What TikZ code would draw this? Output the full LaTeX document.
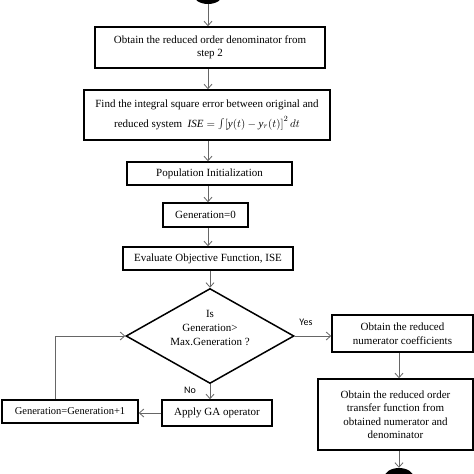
\documentclass[tikz,border=0pt]{standalone}
\usepackage{fontspec}
\setmainfont{Liberation Serif}
\newfontfamily\lblfont{Carlito}
\usetikzlibrary{shapes.geometric,arrows.meta}
\begin{document}
\begin{tikzpicture}[x=1pt,y=-1pt,
  box/.style={draw=black,line width=1.5pt,align=center,inner sep=1pt,font=\fontsize{11}{13.5}\selectfont},
  conn/.style={draw=black!60,line width=0.8pt,-{Straight Barb[length=4.5pt,width=8pt]}},
  term/.style={fill=black,ellipse,minimum width=30pt,minimum height=20pt,inner sep=0pt},
  lbl/.style={font=\lblfont\fontsize{10}{12}\selectfont,inner sep=0pt}]
\useasboundingbox (0,0) rectangle (474,474);
\begin{scope}
\clip (0,0) rectangle (474,474);
\node[term] (start) at (208,-6) {};
\node[term] (stop) at (399,478) {};
\end{scope}
\coordinate (spine) at (208,0);
\coordinate (rsp) at (399,0);
\coordinate (lp) at (55,0);
\node[box,minimum width=230pt,minimum height=41pt] (b1) at (210,47.5)
  {Obtain the reduced order denominator from\\step 2};
\node[box,minimum width=246pt,minimum height=50pt] (b2) at (207,115)
  {Find the integral square error between original and\\[6pt]reduced system \ $\mathit{ISE}=\int\bigl[\mathit{y}(t)-\mathit{y}_r(t)\bigr]^2\,dt$};
\node[box,minimum width=165pt,minimum height=23pt] (b3) at (209.5,173.5) {Population Initialization};
\node[box,minimum width=85pt,minimum height=24pt] (b4) at (205.5,215) {Generation=0};
\node[box,minimum width=170pt,minimum height=23pt] (b5) at (208,258.5) {Evaluate Objective Function, ISE};
\node[draw=black,line width=1.5pt,diamond,minimum width=168pt,minimum height=95pt,inner sep=0pt] (d) at (210,336) {};
\node[align=center,font=\fontsize{11}{14}\selectfont] (dtext) at (210,328) {Is\\Generation>\\Max.Generation ?};
\node[box,minimum width=110pt,minimum height=26pt] (ga) at (217,413) {Apply GA operator};
\node[box,minimum width=136pt,minimum height=23pt,font=\fontsize{10.5}{13}\selectfont] (g1) at (70,411.5) {Generation=Generation+1};
\node[box,minimum width=141pt,minimum height=37pt] (r1) at (402.5,333.5) {Obtain the reduced\\numerator coefficients};
\node[box,minimum width=155pt,minimum height=71pt] (r2) at (395.5,414.5) {Obtain the reduced order\\transfer function from\\obtained numerator and\\denominator};
\node[lbl] (yes) at (306,322) {Yes};
\node[lbl] (no) at (190,390) {No};
\draw[conn] (start.south -| spine) -- (b1.north -| spine);
\draw[conn] (b1.south -| spine) -- (b2.north -| spine);
\draw[conn] (b2.south -| spine) -- (b3.north -| spine);
\draw[conn] (b3.south -| spine) -- (b4.north -| spine);
\draw[conn] (b4.south -| spine) -- (b5.north -| spine);
\draw[conn] (b5.south -| d.north) -- (d.north);
\draw[conn] (d.east) -- (d.east -| r1.west);
\draw[conn] (d.south) -- (d.south |- ga.north);
\draw[conn] (ga.west) -- (ga.west -| g1.east);
\draw[conn] (g1.north -| lp) |- (d.west);
\draw[conn] (r1.south -| rsp) -- (r2.north -| rsp);
\draw[conn] (r2.south -| rsp) -- (stop.north -| rsp);
\end{tikzpicture}
\end{document}
